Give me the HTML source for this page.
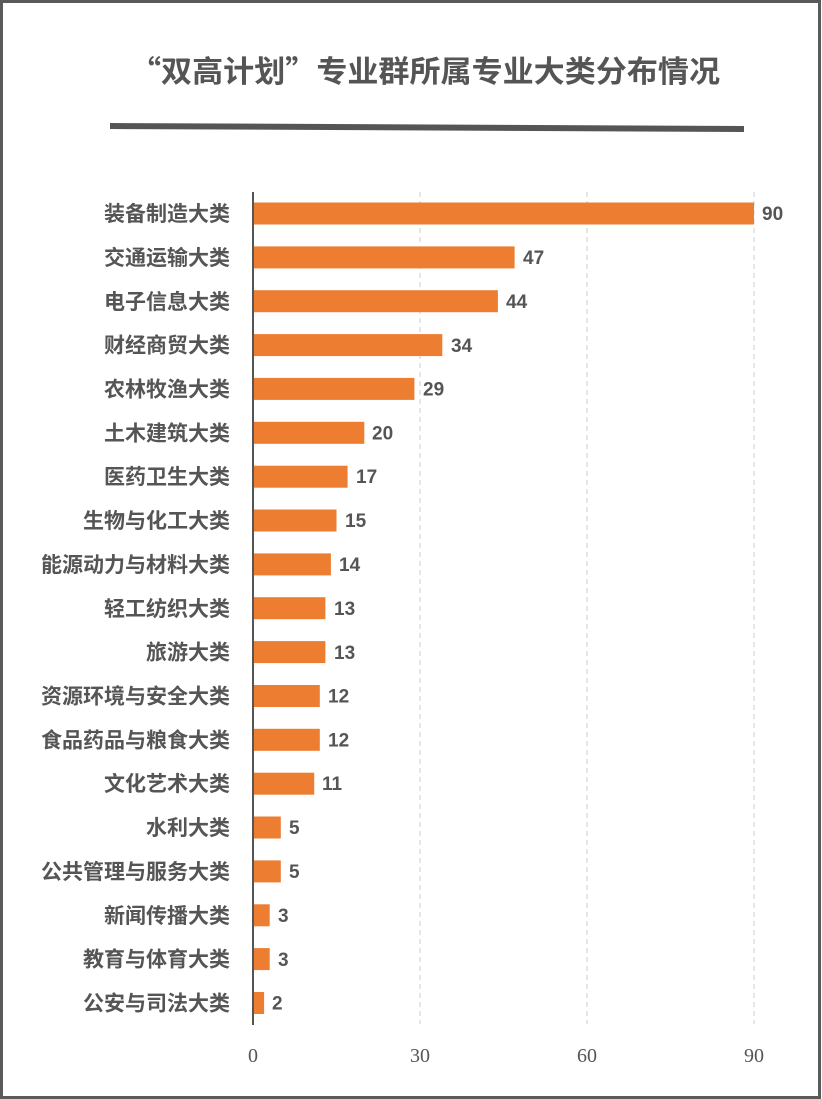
<!DOCTYPE html>
<html><head><meta charset="utf-8"><style>
html,body{margin:0;padding:0;background:#fff;}
svg{display:block;}
.l{font-family:"Noto Sans CJK SC",sans-serif;font-size:21px;font-weight:bold;fill:#555;text-anchor:end;}
.v{font-family:"Liberation Sans",sans-serif;font-size:19px;font-weight:bold;fill:#555;}
</style></head><body>
<svg width="822" height="1099" viewBox="0 0 822 1099" xmlns="http://www.w3.org/2000/svg">
<rect x="1.5" y="1.5" width="818" height="1096" fill="#fff" stroke="#5a5a5a" stroke-width="3"/>
<text x="425" y="82" text-anchor="middle" font-family="'Noto Sans CJK SC',sans-serif" font-size="30" font-weight="bold" fill="#555" textLength="590" lengthAdjust="spacingAndGlyphs">“双高计划”专业群所属专业大类分布情况</text>
<polygon points="110,123 744,126 744,132 110,129" fill="#555"/>
<g stroke="#ccc" stroke-width="1" stroke-dasharray="5,4">
<line x1="420" y1="192" x2="420" y2="1024"/>
<line x1="587" y1="192" x2="587" y2="1024"/>
<line x1="754" y1="192" x2="754" y2="1024"/>
</g>
<g fill="#ED7D31">
<rect x="253" y="202.5" width="501" height="22"/>
<rect x="253" y="246.4" width="261.6" height="22"/>
<rect x="253" y="290.2" width="244.9" height="22"/>
<rect x="253" y="334.1" width="189.3" height="22"/>
<rect x="253" y="377.9" width="161.4" height="22"/>
<rect x="253" y="421.8" width="111.3" height="22"/>
<rect x="253" y="465.7" width="94.6" height="22"/>
<rect x="253" y="509.5" width="83.5" height="22"/>
<rect x="253" y="553.4" width="77.9" height="22"/>
<rect x="253" y="597.2" width="72.4" height="22"/>
<rect x="253" y="641.1" width="72.4" height="22"/>
<rect x="253" y="685" width="66.8" height="22"/>
<rect x="253" y="728.8" width="66.8" height="22"/>
<rect x="253" y="772.7" width="61.2" height="22"/>
<rect x="253" y="816.5" width="27.8" height="22"/>
<rect x="253" y="860.4" width="27.8" height="22"/>
<rect x="253" y="904.3" width="16.7" height="22"/>
<rect x="253" y="948.1" width="16.7" height="22"/>
<rect x="253" y="992" width="11.1" height="22"/>
</g>
<g>
<text class="l" x="230" y="221">装备制造大类</text>
<text class="l" x="230" y="265">交通运输大类</text>
<text class="l" x="230" y="309">电子信息大类</text>
<text class="l" x="230" y="352.5">财经商贸大类</text>
<text class="l" x="230" y="396.5">农林牧渔大类</text>
<text class="l" x="230" y="440.5">土木建筑大类</text>
<text class="l" x="230" y="484">医药卫生大类</text>
<text class="l" x="230" y="528">生物与化工大类</text>
<text class="l" x="230" y="572">能源动力与材料大类</text>
<text class="l" x="230" y="616">轻工纺织大类</text>
<text class="l" x="230" y="659.5">旅游大类</text>
<text class="l" x="230" y="703.5">资源环境与安全大类</text>
<text class="l" x="230" y="747.5">食品药品与粮食大类</text>
<text class="l" x="230" y="791">文化艺术大类</text>
<text class="l" x="230" y="835">水利大类</text>
<text class="l" x="230" y="879">公共管理与服务大类</text>
<text class="l" x="230" y="923">新闻传播大类</text>
<text class="l" x="230" y="966.5">教育与体育大类</text>
<text class="l" x="230" y="1010.5">公安与司法大类</text>
</g>
<g>
<text class="v" x="762" y="220">90</text>
<text class="v" x="523" y="264">47</text>
<text class="v" x="506" y="308">44</text>
<text class="v" x="451" y="352">34</text>
<text class="v" x="423" y="395.5">29</text>
<text class="v" x="372" y="439.5">20</text>
<text class="v" x="356" y="483">17</text>
<text class="v" x="345" y="527">15</text>
<text class="v" x="339" y="571">14</text>
<text class="v" x="334" y="615">13</text>
<text class="v" x="334" y="659">13</text>
<text class="v" x="328" y="702.5">12</text>
<text class="v" x="328" y="746.5">12</text>
<text class="v" x="322" y="790">11</text>
<text class="v" x="289" y="834">5</text>
<text class="v" x="289" y="878">5</text>
<text class="v" x="278" y="922">3</text>
<text class="v" x="278" y="966">3</text>
<text class="v" x="272" y="1009.5">2</text>
</g>
<line x1="253" y1="192" x2="253" y2="1025" stroke="#555" stroke-width="2"/>
<g font-family="'Liberation Serif',serif" font-size="20" fill="#555" text-anchor="middle">
<text x="253" y="1062">0</text><text x="420" y="1062">30</text><text x="587" y="1062">60</text><text x="754" y="1062">90</text>
</g>
</svg>
</body></html>
